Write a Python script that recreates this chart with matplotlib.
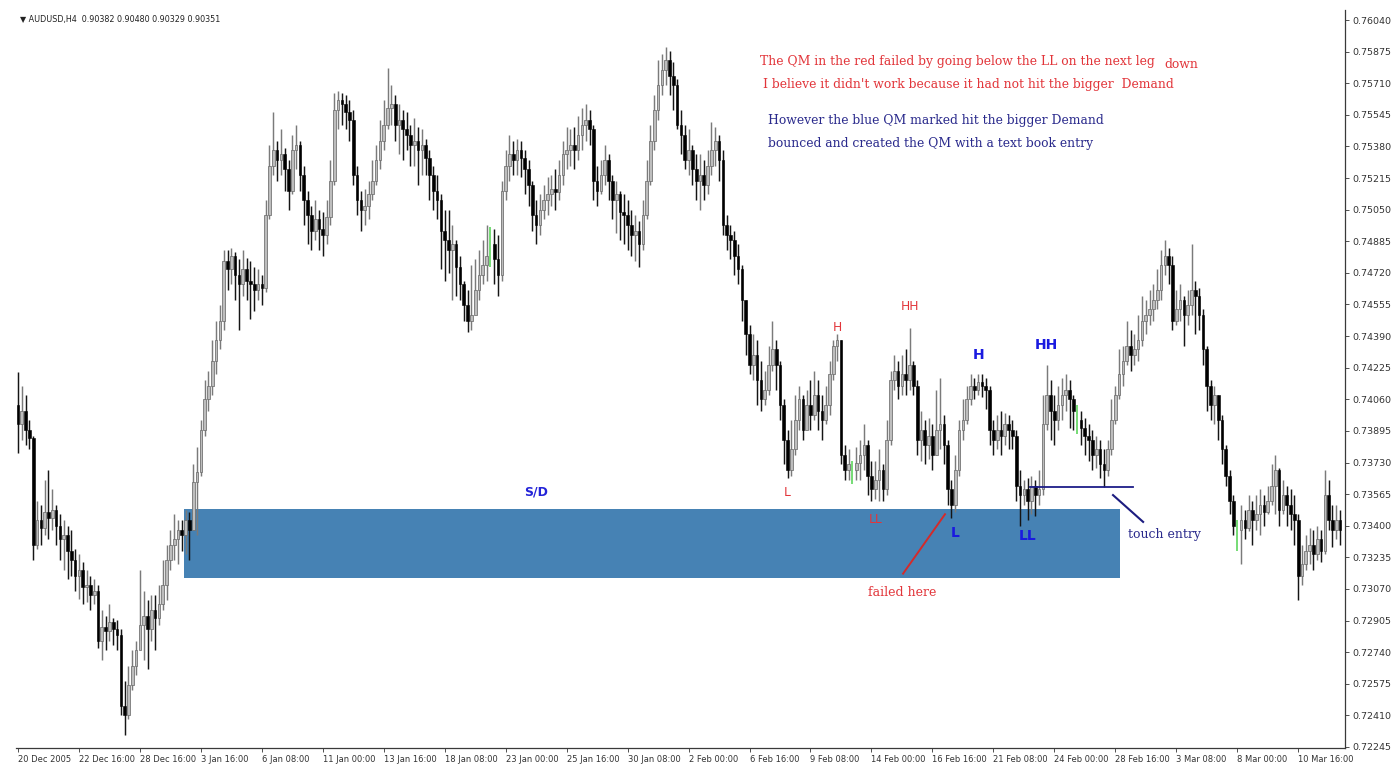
import numpy as np
import matplotlib
matplotlib.use("Agg")
import matplotlib.pyplot as plt
from matplotlib.patches import Rectangle

# ====== AUDUSD H4 candles, prices in pips (1e-4) ======
opens = [
    7403, 7393, 7400, 7390, 7386, 7330, 7343, 7339, 7347, 7344,
    7348, 7340, 7333, 7335, 7327, 7322, 7314, 7317, 7308, 7309,
    7304, 7306, 7280, 7287, 7285, 7290, 7286, 7283, 7246, 7241,
    7257, 7267, 7275, 7288, 7293, 7286, 7296, 7292, 7299, 7309,
    7322, 7330, 7333, 7338, 7335, 7343, 7338, 7363, 7368, 7390,
    7406, 7413, 7426, 7437, 7447, 7478, 7474, 7481, 7471, 7466,
    7474, 7468, 7466, 7463, 7466, 7464, 7502, 7528, 7536, 7531,
    7534, 7526, 7515, 7536, 7539, 7523, 7510, 7502, 7494, 7500,
    7495, 7492, 7501, 7520, 7557, 7562, 7560, 7556, 7552, 7523,
    7510, 7505, 7507, 7513, 7520, 7531, 7541, 7549, 7558, 7560,
    7549, 7552, 7547, 7544, 7539, 7541, 7536, 7539, 7532, 7523,
    7515, 7510, 7494, 7489, 7484, 7487, 7475, 7466, 7455, 7447,
    7450, 7463, 7471, 7476, 7487, 7487, 7479, 7471, 7515, 7528,
    7534, 7531, 7536, 7532, 7526, 7518, 7502, 7497, 7505, 7510,
    7513, 7516, 7514, 7523, 7534, 7536, 7539, 7536, 7544, 7549,
    7552, 7547, 7520, 7515, 7523, 7531, 7520, 7510, 7513, 7504,
    7502, 7497, 7492, 7494, 7487, 7502, 7520, 7541, 7557, 7570,
    7578, 7583, 7575, 7570, 7549, 7544, 7531, 7536, 7526, 7520,
    7523, 7518, 7528, 7536, 7541, 7531, 7497, 7492, 7489, 7481,
    7474, 7458, 7440, 7424, 7429, 7416, 7406, 7411, 7424, 7432,
    7424, 7403, 7385, 7369, 7380, 7395, 7406, 7390, 7403, 7398,
    7408, 7400, 7395, 7403, 7419, 7434, 7437, 7377, 7369, 7369,
    7369, 7373, 7377, 7382, 7366, 7359, 7364, 7369, 7359, 7385,
    7416, 7421, 7413, 7419, 7416, 7424, 7413, 7385, 7390, 7382,
    7387, 7377, 7390, 7393, 7382, 7359, 7351, 7369, 7390, 7395,
    7406, 7413, 7411, 7415, 7413, 7411, 7390, 7385, 7390, 7387,
    7393, 7390, 7387, 7361, 7356, 7359, 7353, 7361, 7356, 7359,
    7393, 7408, 7400, 7395, 7403, 7408, 7411, 7406, 7395, 7395,
    7391, 7387, 7385, 7377, 7380, 7372, 7369, 7380, 7395, 7408,
    7419, 7426, 7434, 7429, 7432, 7437, 7447, 7450, 7453, 7458,
    7463, 7476, 7481, 7476, 7447, 7453, 7458, 7450, 7455, 7463,
    7460, 7450, 7432, 7413, 7403, 7408, 7395, 7380, 7366, 7353,
    7338, 7338, 7343, 7339, 7348, 7343, 7346, 7351, 7347, 7353,
    7361, 7369, 7348, 7356, 7351, 7346, 7343, 7314, 7320, 7327,
    7330, 7325, 7333, 7327, 7356, 7343, 7338, 7343,
]
highs = [
    7420, 7413, 7408, 7395, 7387, 7353, 7351, 7364, 7369, 7359,
    7351, 7346, 7343, 7340, 7338, 7328, 7325, 7321, 7317, 7314,
    7312, 7309, 7296, 7293, 7299, 7292, 7291, 7286, 7259, 7267,
    7275, 7280, 7317, 7306, 7301, 7304, 7304, 7309, 7322, 7330,
    7338, 7346, 7343, 7343, 7348, 7347, 7372, 7381, 7395, 7416,
    7421, 7437, 7447, 7455, 7484, 7484, 7485, 7483, 7479, 7484,
    7480, 7478, 7475, 7474, 7471, 7510, 7539, 7556, 7541, 7547,
    7537, 7531, 7544, 7549, 7541, 7528, 7515, 7507, 7510, 7505,
    7504, 7510, 7531, 7566, 7567, 7566, 7565, 7562, 7557, 7528,
    7515, 7516, 7520, 7531, 7539, 7552, 7562, 7579, 7570, 7565,
    7560, 7557, 7556, 7549, 7553, 7548, 7547, 7542, 7536, 7528,
    7523, 7513, 7505, 7505, 7497, 7489, 7481, 7468, 7463, 7476,
    7479, 7484, 7489, 7497, 7496, 7495, 7492, 7520, 7536, 7544,
    7541, 7542, 7541, 7536, 7531, 7520, 7510, 7513, 7518, 7522,
    7523, 7526, 7531, 7541, 7548, 7547, 7548, 7554, 7558, 7560,
    7557, 7549, 7528, 7531, 7539, 7534, 7523, 7520, 7515, 7513,
    7510, 7505, 7502, 7499, 7510, 7531, 7549, 7565, 7583, 7586,
    7590, 7588, 7582, 7573, 7557, 7549, 7547, 7539, 7534, 7534,
    7531, 7536, 7551, 7548, 7544, 7536, 7502, 7497, 7494, 7487,
    7476, 7458, 7445, 7440, 7437, 7426, 7421, 7434, 7447, 7437,
    7426, 7406, 7390, 7395, 7408, 7413, 7408, 7411, 7416, 7421,
    7416, 7408, 7413, 7426, 7437, 7440, 7437, 7382, 7380, 7374,
    7381, 7385, 7393, 7385, 7374, 7374, 7380, 7372, 7395, 7421,
    7429, 7426, 7429, 7432, 7443, 7426, 7416, 7400, 7395, 7396,
    7393, 7411, 7417, 7398, 7385, 7364, 7377, 7395, 7406, 7413,
    7419, 7417, 7419, 7419, 7417, 7413, 7395, 7398, 7400, 7399,
    7398, 7395, 7390, 7369, 7364, 7365, 7366, 7364, 7369, 7408,
    7424, 7416, 7408, 7413, 7417, 7419, 7416, 7408, 7403, 7400,
    7396, 7393, 7390, 7387, 7385, 7380, 7385, 7406, 7413, 7432,
    7434, 7447, 7442, 7440, 7450, 7460, 7458, 7463, 7466, 7474,
    7484, 7489, 7485, 7481, 7463, 7466, 7460, 7463, 7487, 7468,
    7464, 7453, 7434, 7416, 7413, 7408, 7398, 7382, 7369, 7356,
    7343, 7351, 7348, 7356, 7353, 7356, 7359, 7356, 7361, 7372,
    7377, 7370, 7364, 7361, 7359, 7356, 7346, 7330, 7335, 7339,
    7338, 7340, 7338, 7369, 7364, 7351, 7351, 7348,
]
lows = [
    7378, 7385, 7382, 7380, 7322, 7328, 7330, 7335, 7333, 7338,
    7330, 7322, 7317, 7312, 7314, 7306, 7302, 7299, 7300, 7296,
    7299, 7276, 7270, 7275, 7280, 7278, 7275, 7241, 7231, 7239,
    7254, 7262, 7280, 7270, 7265, 7280, 7275, 7288, 7296, 7301,
    7317, 7322, 7320, 7327, 7325, 7322, 7338, 7335, 7366, 7387,
    7400, 7408, 7419, 7432, 7442, 7463, 7466, 7458, 7442, 7460,
    7458, 7448, 7452, 7458, 7455, 7462, 7500, 7523, 7520, 7523,
    7515, 7505, 7513, 7526, 7515, 7497, 7487, 7484, 7489, 7484,
    7481, 7487, 7497, 7518, 7547, 7549, 7547, 7541, 7518, 7502,
    7494, 7497, 7500, 7510, 7518, 7526, 7536, 7547, 7549, 7541,
    7534, 7531, 7536, 7528, 7528, 7518, 7523, 7523, 7510, 7505,
    7500, 7474, 7468, 7472, 7458, 7460, 7458, 7447, 7441, 7442,
    7453, 7458, 7466, 7468, 7475, 7466, 7460, 7468, 7510, 7520,
    7523, 7523, 7522, 7513, 7507, 7494, 7487, 7492, 7500, 7502,
    7507, 7505, 7510, 7518, 7526, 7528, 7526, 7531, 7536, 7541,
    7539, 7510, 7507, 7513, 7518, 7510, 7500, 7493, 7489, 7487,
    7484, 7481, 7478, 7475, 7484, 7500, 7518, 7536, 7552, 7565,
    7570, 7565, 7557, 7547, 7534, 7526, 7523, 7518, 7510, 7505,
    7510, 7513, 7523, 7528, 7520, 7492, 7484, 7479, 7471, 7466,
    7447, 7429, 7419, 7416, 7403, 7400, 7403, 7408, 7421, 7411,
    7395, 7372, 7365, 7366, 7377, 7390, 7385, 7393, 7390, 7395,
    7390, 7385, 7393, 7398, 7416, 7426, 7372, 7364, 7364, 7362,
    7364, 7364, 7369, 7356, 7353, 7354, 7353, 7353, 7356, 7382,
    7411, 7406, 7408, 7408, 7411, 7408, 7377, 7374, 7372, 7375,
    7369, 7377, 7380, 7372, 7351, 7344, 7347, 7366, 7385, 7393,
    7403, 7406, 7408, 7407, 7401, 7382, 7377, 7380, 7377, 7382,
    7380, 7380, 7353, 7340, 7351, 7343, 7346, 7345, 7351, 7356,
    7390, 7385, 7382, 7390, 7395, 7400, 7391, 7390, 7388, 7382,
    7377, 7374, 7369, 7370, 7365, 7360, 7366, 7377, 7393, 7406,
    7413, 7424, 7421, 7424, 7426, 7434, 7440, 7445, 7447, 7453,
    7458, 7471, 7466, 7442, 7445, 7447, 7434, 7445, 7450, 7440,
    7442, 7424, 7400, 7395, 7393, 7385, 7372, 7361, 7346, 7335,
    7327, 7320, 7333, 7337, 7330, 7338, 7335, 7340, 7346, 7351,
    7346, 7340, 7346, 7340, 7338, 7330, 7301, 7309, 7317, 7320,
    7317, 7322, 7321, 7325, 7338, 7329, 7333, 7330,
]
closes = [
    7393, 7400, 7390, 7386, 7330, 7343, 7339, 7347, 7344, 7348,
    7340, 7333, 7335, 7327, 7322, 7314, 7317, 7308, 7309, 7304,
    7306, 7280, 7287, 7285, 7290, 7286, 7283, 7246, 7241, 7257,
    7267, 7275, 7288, 7293, 7286, 7296, 7292, 7299, 7309, 7322,
    7330, 7333, 7338, 7335, 7343, 7338, 7363, 7368, 7390, 7406,
    7413, 7426, 7437, 7447, 7478, 7474, 7481, 7471, 7466, 7474,
    7468, 7466, 7463, 7466, 7464, 7502, 7528, 7536, 7531, 7534,
    7526, 7515, 7536, 7539, 7523, 7510, 7502, 7494, 7500, 7495,
    7492, 7501, 7520, 7557, 7562, 7560, 7556, 7552, 7523, 7510,
    7505, 7507, 7513, 7520, 7531, 7541, 7549, 7558, 7560, 7549,
    7552, 7547, 7544, 7539, 7541, 7536, 7539, 7532, 7523, 7515,
    7510, 7494, 7489, 7484, 7487, 7475, 7466, 7455, 7447, 7450,
    7463, 7471, 7476, 7481, 7487, 7479, 7471, 7515, 7528, 7534,
    7531, 7536, 7532, 7526, 7518, 7502, 7497, 7505, 7510, 7513,
    7516, 7514, 7523, 7534, 7536, 7539, 7536, 7544, 7549, 7552,
    7547, 7520, 7515, 7523, 7531, 7520, 7510, 7513, 7504, 7502,
    7497, 7492, 7494, 7487, 7502, 7520, 7541, 7557, 7570, 7578,
    7583, 7575, 7570, 7549, 7544, 7531, 7536, 7526, 7520, 7523,
    7518, 7528, 7536, 7541, 7531, 7497, 7492, 7489, 7481, 7474,
    7458, 7440, 7424, 7429, 7416, 7406, 7411, 7424, 7432, 7424,
    7403, 7385, 7369, 7380, 7395, 7406, 7390, 7403, 7398, 7408,
    7400, 7395, 7403, 7419, 7434, 7437, 7377, 7369, 7372, 7369,
    7373, 7377, 7382, 7366, 7359, 7364, 7369, 7359, 7385, 7416,
    7421, 7413, 7419, 7416, 7424, 7413, 7385, 7390, 7382, 7387,
    7377, 7390, 7393, 7382, 7359, 7351, 7369, 7390, 7395, 7406,
    7413, 7411, 7415, 7413, 7411, 7390, 7385, 7390, 7387, 7393,
    7390, 7387, 7361, 7356, 7359, 7353, 7361, 7356, 7359, 7393,
    7408, 7400, 7395, 7403, 7408, 7411, 7406, 7400, 7395, 7391,
    7387, 7385, 7377, 7380, 7372, 7369, 7380, 7395, 7408, 7419,
    7426, 7434, 7429, 7432, 7437, 7447, 7450, 7453, 7458, 7463,
    7476, 7481, 7476, 7447, 7453, 7458, 7450, 7455, 7463, 7460,
    7450, 7432, 7413, 7403, 7408, 7395, 7380, 7366, 7353, 7340,
    7338, 7343, 7339, 7348, 7343, 7346, 7351, 7347, 7353, 7361,
    7369, 7348, 7356, 7351, 7346, 7343, 7314, 7320, 7327, 7330,
    7325, 7333, 7327, 7356, 7343, 7338, 7343, 7338,
]

date_labels = [
    "20 Dec 2005", "22 Dec 16:00", "28 Dec 16:00", "3 Jan 16:00", "6 Jan 08:00",
    "11 Jan 00:00", "13 Jan 16:00", "18 Jan 08:00", "23 Jan 00:00", "25 Jan 16:00",
    "30 Jan 08:00", "2 Feb 00:00", "6 Feb 16:00", "9 Feb 08:00", "14 Feb 00:00",
    "16 Feb 16:00", "21 Feb 08:00", "24 Feb 00:00", "28 Feb 16:00", "3 Mar 08:00",
    "8 Mar 00:00", "10 Mar 16:00",
]
bars_per_label = 16
price_ticks = [
    0.72245, 0.72410, 0.72575, 0.72740, 0.72905, 0.73070, 0.73235, 0.73400,
    0.73565, 0.73730, 0.73895, 0.74060, 0.74225, 0.74390, 0.74555, 0.74720,
    0.74885, 0.75050, 0.75215, 0.75380, 0.75545, 0.75710, 0.75875, 0.76040,
]

# supply/demand zone (bar range, price range) and touch entry level
zone_bars = (43.6, 289.3)
zone_prices = (0.73125, 0.73485)
entry_bars = (265.6, 292.6)
entry_price = 0.7360

# ====== figure ======
o = np.array(opens) / 1e4
h = np.array(highs) / 1e4
l = np.array(lows) / 1e4
c = np.array(closes) / 1e4
x = np.arange(len(c))
up = c > o
dn = c < o
flat = c == o

fig = plt.figure(figsize=(13.99, 7.76), dpi=100)
ax = fig.add_axes([0.01144, 0.0361, 0.95, 0.951])
ax.set_xlim(-0.52, 348.3)
ax.set_ylim(0.722398, 0.760922)

ax.add_patch(Rectangle((zone_bars[0], zone_prices[0]), zone_bars[1] - zone_bars[0],
                       zone_prices[1] - zone_prices[0], facecolor="#4682b4",
                       edgecolor="none", zorder=1))

# candles
ax.vlines(x[up], l[up], h[up], color="#7a7a7a", lw=1.05, zorder=3)
ax.vlines(x[dn], l[dn], h[dn], color="#151515", lw=1.05, zorder=3)
ax.bar(x[up], (c - o)[up], bottom=o[up], width=0.7, color="#bdbdbd",
       edgecolor="#6e6e6e", linewidth=0.55, zorder=4)
ax.bar(x[dn], (o - c)[dn], bottom=c[dn], width=0.7, color="#000000",
       edgecolor="#000000", linewidth=0.4, zorder=4)
ax.vlines(x[flat], l[flat], h[flat], color="#5ed65e", lw=1.2, zorder=4)

# annotations
red = "#e2353a"
navy = "#2a2a8c"
blue = "#1a1ae0"
ax.plot(entry_bars, [entry_price, entry_price], color="#1c1c88", lw=1.3, zorder=5)
ax.plot([287.4, 295.3], [0.73560, 0.73420], color="#1c1c80", lw=1.5, zorder=5)
ax.plot([243.3, 232.3], [0.73460, 0.73150], color="#d42a2a", lw=1.4, zorder=5)

ax.text(136, 0.73576, "S/D", color="#2323d8", fontsize=9, fontweight="bold",
        ha="center", va="center", zorder=6)
for lab, xx, yy in [("L", 201.8, 0.73571), ("H", 215, 0.74437),
                    ("HH", 234, 0.74547), ("LL", 225, 0.73430)]:
    ax.text(xx, yy, lab, color=red, fontsize=8.8, ha="center", va="center", zorder=6)
for lab, xx, yy in [("L", 246, 0.73362), ("H", 252, 0.74291),
                    ("HH", 270, 0.74343), ("LL", 265, 0.73346)]:
    ax.text(xx, yy, lab, color=blue, fontsize=10, fontweight="bold",
            ha="center", va="center", zorder=6)

serif = "DejaVu Serif"
ax.text(232, 0.73054, "failed here", color=red, fontsize=9, family=serif,
        ha="center", va="center", zorder=6)
ax.text(291.3, 0.73352, "touch entry", color=navy, fontsize=9, family=serif,
        ha="left", va="center", zorder=6)

txt = dict(fontsize=8.9, family=serif, ha="left", va="center")
ax.text(194.8, 0.75821, "The QM in the red failed by going below the LL on the next leg",
        color=red, **txt)
ax.text(300.9, 0.75810, "down", color=red, **txt)
ax.text(195.5, 0.75701, "I believe it didn't work because it had not hit the bigger  Demand",
        color=red, **txt)
ax.text(196.9, 0.75513, "However the blue QM marked hit the bigger Demand",
        color=navy, **txt)
ax.text(196.9, 0.75393, "bounced and created the QM with a text book entry",
        color=navy, **txt)

fig.text(0.0143, 0.9755, "\u25bc AUDUSD,H4  0.90382 0.90480 0.90329 0.90351",
         fontsize=5.8, color="#222222", ha="left", va="center")

# axes look
for side in ("left", "top"):
    ax.spines[side].set_visible(False)
for side in ("right", "bottom"):
    ax.spines[side].set_color("#3a3a3a")
    ax.spines[side].set_linewidth(0.9)
ax.yaxis.tick_right()
ax.set_yticks(price_ticks)
ax.set_yticklabels([f"{p:.5f}" for p in price_ticks])
ax.set_xticks(np.arange(len(date_labels)) * bars_per_label)
ax.set_xticklabels(date_labels, ha="left")
ax.tick_params(axis="y", direction="out", length=3, width=0.6, labelsize=6.8,
               pad=2, colors="#333333")
ax.tick_params(axis="x", direction="out", length=3, width=0.6, labelsize=6,
               pad=2, colors="#333333")

fig.savefig("out.png", dpi=100, facecolor="white")
